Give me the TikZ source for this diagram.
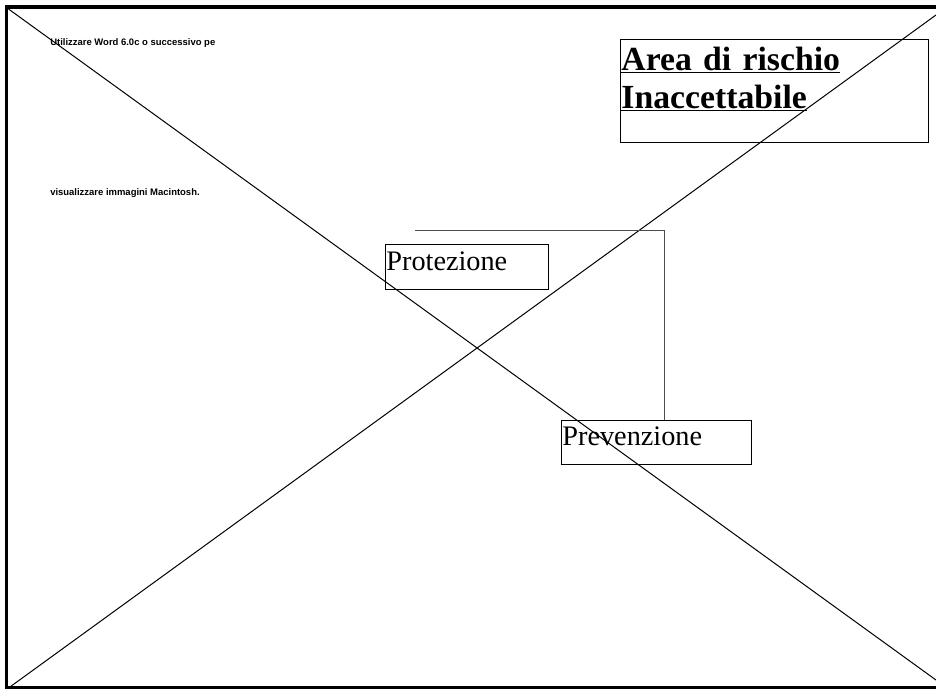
\documentclass[tikz,border=0pt]{standalone}
\usepackage{fontspec}
\setmainfont{Liberation Serif}
\newfontfamily\macfont{Liberation Sans}
\usepackage{tikz}
\usetikzlibrary{calc}
\newcommand\crossw{0.75pt}

\begin{document}
\begin{tikzpicture}[x=0.75pt, y=-0.75pt,
        labelbox/.style={draw, line width=0.6pt, inner xsep=0.75pt, inner ysep=0pt, align=left, anchor=base west},
        stepbox/.style={labelbox, font=\fontsize{21.2}{24}\selectfont, text depth=14.25pt},
        link/.style={draw=black!70, line width=0.75pt}]
        \useasboundingbox (0,0) rectangle (936,689);
        % frame of the missing picture
        \draw[line width=2.8pt] (5,6.7) -- (936,6.7);
        \draw[line width=2.6pt] (6.7,5) -- (6.7,689);
        \draw[line width=2.6pt] (5,688) -- (936,688);
        \draw[line width=\crossw] (8.5,9) -- (936,680);
        \draw[line width=\crossw] (8.5,688) -- (936,15);
        \node[inner sep=0pt, anchor=base west, font=\macfont\bfseries\fontsize{7.1}{8}\selectfont] (msgA) at (50,45) {Utilizzare Word 6.0c o successivo pe};
        \node[inner sep=0pt, anchor=base west, font=\macfont\bfseries\fontsize{7.1}{8}\selectfont] (msgB) at (50,195) {visualizzare immagini Macintosh.};
        % boxes
        \node[labelbox, font=\bfseries\fontsize{25.3}{28.5}\selectfont, text width=229.5pt, text height=23.25pt, text depth=54pt] (area) at (620,70) {\underline{Area di rischio}\\\underline{Inaccettabile}};
        \node[stepbox, text width=120.75pt, text height=19.5pt] (prot) at (385,270) {Protezione};
        \node[stepbox, text width=141pt, text height=18.75pt] (prev) at (561,445) {Prevenzione};
        \coordinate (bend) at (664,230);
        \coordinate (tail) at (415,230);
        \draw[link] (prev.north -| bend) |- (tail);
    \end{tikzpicture}
\end{document}
